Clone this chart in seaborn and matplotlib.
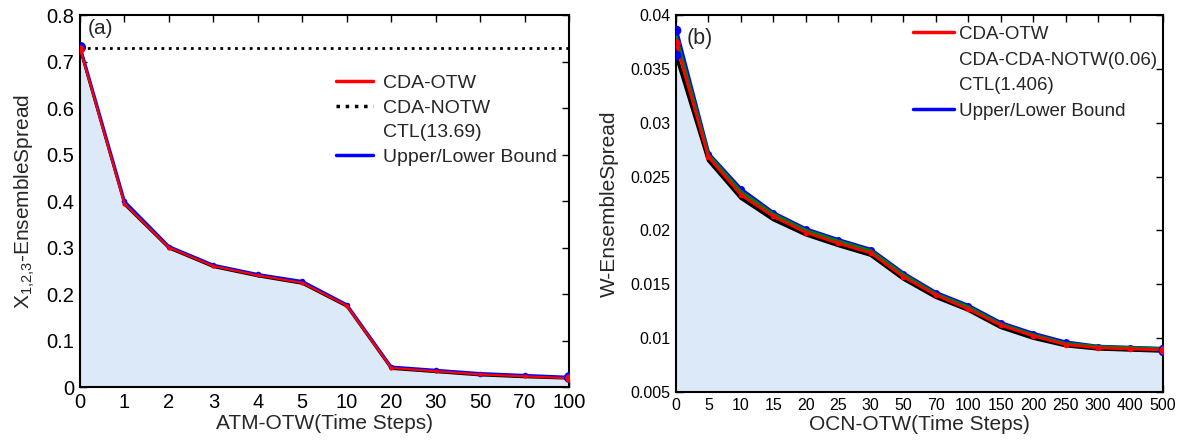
import numpy as np
import matplotlib
matplotlib.use("Agg")
import matplotlib.pyplot as plt
from matplotlib.lines import Line2D
from matplotlib.ticker import FormatStrFormatter
import seaborn as sns

# panel (a) data
steps_a = ["0", "1", "2", "3", "4", "5", "10", "20", "30", "50", "70", "100"]
upper_a = [0.732, 0.399, 0.302, 0.262, 0.242, 0.227, 0.177, 0.043, 0.036, 0.029, 0.025, 0.021]
otw_a = [0.728, 0.394, 0.300, 0.260, 0.240, 0.224, 0.175, 0.041, 0.034, 0.027, 0.023, 0.019]
lower_a = [0.725, 0.392, 0.298, 0.258, 0.238, 0.222, 0.173, 0.039, 0.032, 0.025, 0.021, 0.018]
notw_a = 0.73

# panel (b) data
steps_b = ["0", "5", "10", "15", "20", "25", "30", "50", "70", "100",
           "150", "200", "250", "300", "400", "500"]
upper_b = [0.0386, 0.0271, 0.0238, 0.0216, 0.0201, 0.0191, 0.0182, 0.0160,
           0.0142, 0.0130, 0.0114, 0.0104, 0.0096, 0.0092, 0.0091, 0.0090]
green_b = [0.0380, 0.0270, 0.0236, 0.0215, 0.0200, 0.0190, 0.0181, 0.0159,
           0.0141, 0.0129, 0.0113, 0.0103, 0.0095, 0.0092, 0.0091, 0.0090]
otw_b = [0.0374, 0.0268, 0.0233, 0.0213, 0.0198, 0.0188, 0.0179, 0.0157,
         0.0140, 0.0127, 0.0112, 0.0102, 0.0094, 0.0091, 0.0090, 0.0089]
lower_b = [0.0363, 0.0265, 0.0230, 0.0210, 0.0196, 0.0186, 0.0177, 0.0155,
           0.0138, 0.0126, 0.0110, 0.0100, 0.0093, 0.0090, 0.0089, 0.0088]

sns.set_style("ticks")
plt.rcParams['font.family'] = ['Liberation Sans', 'DejaVu Sans']
plt.rcParams['mathtext.fontset'] = 'custom'
plt.rcParams['mathtext.rm'] = 'Liberation Sans'
plt.rcParams['mathtext.it'] = 'Liberation Sans'

fill_color = '#dce9f8'

fig = plt.figure(figsize=(11.89, 4.42), dpi=100)
ax1 = fig.add_axes([0.0673, 0.1244, 0.4113, 0.8416])
ax2 = fig.add_axes([0.5685, 0.1131, 0.4096, 0.853])


def style_axes(ax, fs):
    ax.tick_params(direction='in', top=True, right=True, length=5, width=1,
                   labelsize=fs, pad=4, colors='black')
    for s in ax.spines.values():
        s.set_linewidth(1.5)
        s.set_color('black')
        s.set_visible(True)


# ---- panel (a) ----
xa = np.arange(len(steps_a))
ax1.fill_between(xa, 0, lower_a, color=fill_color, zorder=1)
ax1.axhline(notw_a, color='black', ls=':', lw=2, zorder=2)
sns.lineplot(x=xa, y=lower_a, ax=ax1, color='black', lw=1.5, zorder=3)
sns.lineplot(x=xa, y=upper_a, ax=ax1, color='blue', lw=2.2, marker='o',
             markersize=4, markeredgewidth=0, zorder=3)
sns.lineplot(x=xa, y=otw_a, ax=ax1, color='red', lw=1.6, marker='o',
             markersize=3, markeredgewidth=0, zorder=4)
for i in [0, len(xa) - 1]:
    ax1.plot(xa[i], upper_a[i], 'o', color='blue', ms=7, zorder=5)
    ax1.plot(xa[i], otw_a[i], 'o', color='red', ms=5, zorder=6)
ax1.set_xlim(0, len(steps_a) - 1)
ax1.set_ylim(0, 0.8)
ax1.set_xticks(xa)
ax1.set_xticklabels(steps_a)
ax1.set_yticks(np.arange(0, 0.81, 0.1))
ax1.yaxis.set_major_formatter(FormatStrFormatter('%g'))
style_axes(ax1, 14.5)
ax1.set_xlabel('ATM-OTW(Time Steps)', fontsize=15, labelpad=2)
ax1.set_ylabel(r'X$_{1{,}2{,}3}$-EnsembleSpread', fontsize=15, labelpad=7)
ax1.text(0.016, 0.99, '(a)', transform=ax1.transAxes, fontsize=15,
         va='top', ha='left')

handles_a = [
    Line2D([], [], color='red', lw=2.5),
    Line2D([], [], color='black', lw=2.5, ls=':'),
    Line2D([], [], color='none'),
    Line2D([], [], color='blue', lw=2.5),
]
labels_a = ['CDA-OTW', 'CDA-NOTW', 'CTL(13.69)', 'Upper/Lower Bound']
ax1.legend(handles_a, labels_a, loc='upper left', bbox_to_anchor=(0.524, 0.84),
           frameon=False, fontsize=14, handlelength=1.9, handletextpad=0.5,
           labelspacing=0.36, borderaxespad=0, borderpad=0)

# ---- panel (b) ----
xb = np.arange(len(steps_b))
ax2.fill_between(xb, 0, lower_b, color=fill_color, zorder=1)
sns.lineplot(x=xb, y=lower_b, ax=ax2, color='black', lw=2.5, zorder=3)
sns.lineplot(x=xb, y=upper_b, ax=ax2, color='blue', lw=3, marker='o',
             markersize=5, markeredgewidth=0, zorder=3)
sns.lineplot(x=xb, y=green_b, ax=ax2, color='green', lw=2.5, zorder=4)
sns.lineplot(x=xb, y=otw_b, ax=ax2, color='red', lw=2, marker='o',
             markersize=4, markeredgewidth=0, zorder=5)
for i in [0, len(xb) - 1]:
    ax2.plot(xb[i], upper_b[i], 'o', color='blue', ms=6, zorder=6)
    ax2.plot(xb[i], lower_b[i], 'o', color='blue', ms=6, zorder=6)
    ax2.plot(xb[i], otw_b[i], 'o', color='red', ms=5, zorder=7)
ax2.set_xlim(0, len(steps_b) - 1)
ax2.set_ylim(0.005, 0.04)
ax2.set_xticks(xb)
ax2.set_xticklabels(steps_b)
ax2.set_yticks(np.arange(0.005, 0.0401, 0.005))
ax2.yaxis.set_major_formatter(FormatStrFormatter('%g'))
style_axes(ax2, 11.5)
ax2.set_xlabel('OCN-OTW(Time Steps)', fontsize=15, labelpad=2)
ax2.set_ylabel('W-EnsembleSpread', fontsize=15, labelpad=8)
ax2.text(0.022, 0.965, '(b)', transform=ax2.transAxes, fontsize=15.5,
         va='top', ha='left')

handles_b = [
    Line2D([], [], color='red', lw=2.5),
    Line2D([], [], color='none'),
    Line2D([], [], color='none'),
    Line2D([], [], color='blue', lw=2.5),
]
labels_b = ['CDA-OTW', 'CDA-CDA-NOTW(0.06)', 'CTL(1.406)', 'Upper/Lower Bound']
ax2.legend(handles_b, labels_b, loc='upper left', bbox_to_anchor=(0.487, 0.971),
           frameon=False, fontsize=13.5, handlelength=2.2, handletextpad=0.25,
           labelspacing=0.45, borderaxespad=0, borderpad=0)

fig.savefig('out.png', dpi=100)
